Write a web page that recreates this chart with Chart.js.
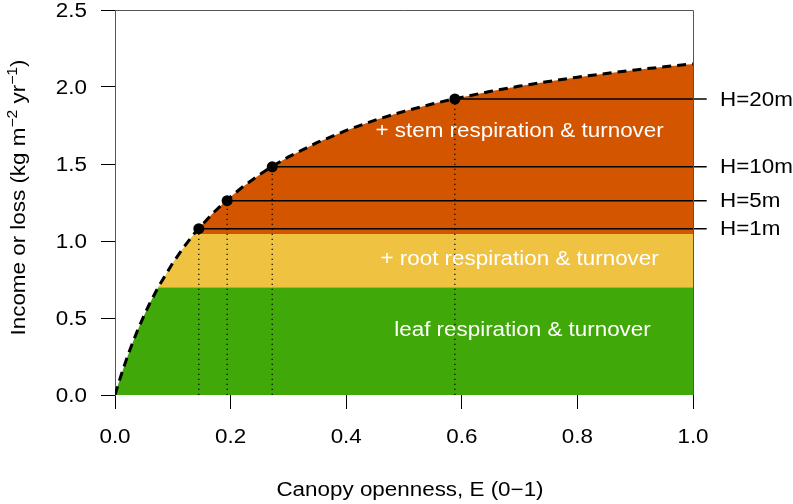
<!DOCTYPE html>
<html>
<head>
<meta charset="utf-8">
<script src="https://cdn.jsdelivr.net/npm/chart.js@4.4.0/dist/chart.umd.min.js"></script>
<style>
  html, body { margin: 0; padding: 0; background: #fff; }
</style>
</head>
<body>
<canvas id="canopyChart" width="793" height="504"></canvas>
<script>
// Curve: canopy openness E vs income
var openness = [0, 0.005, 0.01, 0.02, 0.03, 0.04, 0.05, 0.06, 0.0748, 0.1, 0.12, 0.1366, 0.145, 0.17, 0.194,
  0.22, 0.25, 0.272, 0.3, 0.35, 0.4, 0.45, 0.5, 0.55, 0.588, 0.65, 0.7, 0.75, 0.8, 0.85, 0.9, 0.95, 1.0];
var income = [0, 0.063, 0.122, 0.234, 0.335, 0.429, 0.514, 0.594, 0.700, 0.858, 0.965, 1.045, 1.082, 1.183, 1.268,
  1.349, 1.431, 1.485, 1.546, 1.640, 1.718, 1.785, 1.842, 1.891, 1.924, 1.972, 2.006, 2.036, 2.064, 2.088, 2.111, 2.131, 2.150];

// Cost levels (bands)
var leafLevel = 0.7;
var rootLevel = 1.045;
var zoneLabels = ["leaf respiration & turnover", "+ root respiration & turnover", "+ stem respiration & turnover"];

// Marked heights
var heightLabels = ["H=1m", "H=5m", "H=10m", "H=20m"];
var heightE = [0.145, 0.194, 0.272, 0.588];
var heightIncome = [1.08, 1.262, 1.482, 1.922];

// Tick labels
var xTicks = [0, 0.2, 0.4, 0.6, 0.8, 1.0];
var yTicks = [0, 0.5, 1.0, 1.5, 2.0, 2.5];

var FONT = '"Liberation Sans", Arial, Helvetica, sans-serif';
var STRETCH = 1.12; // the original text is a bit wider than Liberation Sans

function pts(fn) {
  return openness.map(function (e, i) { return { x: e, y: fn(income[i]) }; });
}

var datasets = [
  {
    label: "leaf",
    data: pts(function (v) { return Math.min(v, leafLevel); }),
    backgroundColor: "#41a809",
    borderWidth: 0,
    fill: "origin",
    order: 9
  },
  {
    label: "root",
    data: pts(function (v) { return Math.min(v, rootLevel); }),
    backgroundColor: "#f0c242",
    borderWidth: 0,
    fill: "-1",
    order: 8
  },
  {
    label: "stem",
    data: pts(function (v) { return v; }),
    backgroundColor: "#d45500",
    borderWidth: 0,
    fill: "-1",
    order: 7
  }
];

// dotted drop lines and horizontal lines for each height
heightE.forEach(function (e, i) {
  datasets.push({
    label: "drop" + i,
    data: [{ x: e, y: 0 }, { x: e, y: heightIncome[i] }],
    borderColor: "#000",
    borderWidth: 1.2,
    borderDash: [1.2, 3.8],
    fill: false,
    order: 6
  });
  datasets.push({
    label: "hline" + i,
    data: [{ x: e, y: heightIncome[i] }, { x: 1.0237, y: heightIncome[i] }],
    borderColor: "#000",
    borderWidth: 1.5,
    fill: false,
    clip: false,
    order: 5
  });
});

datasets.push({
  label: "curve",
  data: pts(function (v) { return v; }),
  borderColor: "#000",
  borderWidth: 3,
  borderDash: [9, 6],
  fill: false,
  order: 3
});

datasets.push({
  label: "heights",
  data: heightE.map(function (e, i) { return { x: e, y: heightIncome[i] }; }),
  showLine: false,
  pointRadius: 5.5,
  pointBackgroundColor: "#000",
  pointBorderWidth: 0,
  order: 1
});

function putText(ctx, text, x, y, align) {
  ctx.save();
  ctx.translate(x, y);
  ctx.scale(STRETCH, 1);
  ctx.textAlign = align;
  ctx.fillText(text, 0, 0);
  ctx.restore();
}

// draws a string with superscript runs, centred at 0,0
function drawRich(ctx, runs, size) {
  var total = 0;
  runs.forEach(function (r) {
    ctx.font = (r[1] ? Math.round(size * 0.7) : size) + "px " + FONT;
    r.w = ctx.measureText(r[0]).width;
    total += r.w;
  });
  var x = -total / 2;
  runs.forEach(function (r) {
    ctx.font = (r[1] ? Math.round(size * 0.7) : size) + "px " + FONT;
    ctx.fillText(r[0], x, r[1] ? -size * 0.42 : 0);
    x += r.w;
  });
}

var decorPlugin = {
  id: "decor",
  afterDatasetsDraw: function (chart) {
    var ctx = chart.ctx, sx = chart.scales.x, sy = chart.scales.y, area = chart.chartArea;
    ctx.save();

    // box top and right
    ctx.strokeStyle = "#555";
    ctx.lineWidth = 1;
    ctx.beginPath();
    ctx.moveTo(area.left, area.top + 0.5);
    ctx.lineTo(area.right + 0.5, area.top + 0.5);
    ctx.lineTo(area.right + 0.5, area.bottom);
    ctx.stroke();

    ctx.font = "20px " + FONT;
    ctx.textBaseline = "middle";

    // band labels
    ctx.fillStyle = "#fff";
    var zonePos = [[0.705, 0.416], [0.70, 0.883], [0.70, 1.714]];
    zoneLabels.forEach(function (t, i) {
      putText(ctx, t, sx.getPixelForValue(zonePos[i][0]), sy.getPixelForValue(zonePos[i][1]), "center");
    });

    // height labels
    ctx.fillStyle = "#000";
    heightLabels.forEach(function (t, i) {
      putText(ctx, t, area.right + 27, sy.getPixelForValue(heightIncome[i]) + 1, "left");
    });

    // tick labels
    xTicks.forEach(function (v) {
      putText(ctx, v.toFixed(1), sx.getPixelForValue(v), area.bottom + 42, "center");
    });
    yTicks.forEach(function (v) {
      putText(ctx, v.toFixed(1), area.left - 28, sy.getPixelForValue(v) + 1, "right");
    });

    // axis titles
    putText(ctx, "Canopy openness, E (0\u22121)", (area.left + area.right) / 2 + 6, 490, "center");

    ctx.textBaseline = "alphabetic";
    ctx.translate(25, (area.top + area.bottom) / 2 - 5);
    ctx.rotate(-Math.PI / 2);
    ctx.scale(STRETCH, 1);
    ctx.textAlign = "left";
    drawRich(ctx, [["Income or loss (kg m", 0], ["\u22122", 1], [" yr", 0], ["\u22121", 1], [")", 0]], 20);
    ctx.restore();
  }
};

var ctx = document.getElementById("canopyChart").getContext("2d");
var myChart = new Chart(ctx, {
  type: "line",
  data: { datasets: datasets },
  options: {
    responsive: false,
    animation: false,
    devicePixelRatio: 1,
    elements: { point: { radius: 0 }, line: { tension: 0 } },
    layout: { padding: { top: 10, right: 100, left: 0, bottom: 0 } },
    plugins: { legend: { display: false }, tooltip: { enabled: false }, title: { display: false } },
    scales: {
      x: {
        type: "linear",
        min: 0,
        max: 1,
        afterBuildTicks: function (scale) { scale.ticks = xTicks.map(function (v) { return { value: v }; }); },
        afterFit: function (scale) {
          scale.height = 109;
          scale.paddingLeft = 0; scale.paddingRight = 0;
        },
        ticks: { display: false },
        grid: { drawOnChartArea: false, tickLength: 14, color: "#000", lineWidth: 1 },
        border: { display: false }
      },
      y: {
        type: "linear",
        min: 0,
        max: 2.5,
        afterBuildTicks: function (scale) { scale.ticks = yTicks.map(function (v) { return { value: v }; }); },
        afterFit: function (scale) {
          scale.width = 115;
          scale.paddingTop = 0; scale.paddingBottom = 0;
        },
        ticks: { display: false },
        grid: { drawOnChartArea: false, tickLength: 14, color: "#000", lineWidth: 1 },
        border: { display: true, color: "#555", width: 1 }
      }
    }
  },
  plugins: [decorPlugin]
});
</script>
</body>
</html>
